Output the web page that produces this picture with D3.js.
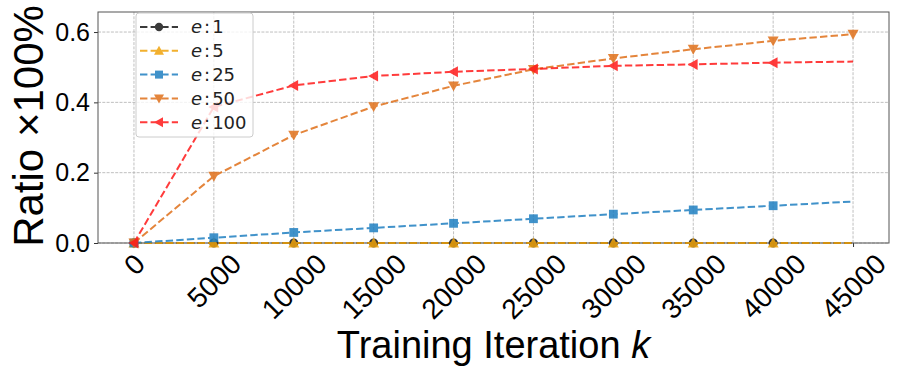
<!DOCTYPE html>
<meta charset="utf-8">
<style>
body { margin: 0; background: #fff; }
svg { display: block; font-family: "DejaVu Sans", sans-serif; }
.grid line { stroke: #b0b0b0; stroke-width: 0.8px; stroke-dasharray: 3,1.3; }
.line { fill: none; stroke-width: 2px; stroke-dasharray: 7.4,3.2; }
</style>
<svg width="913" height="381"></svg>
<script src="https://cdn.jsdelivr.net/npm/d3@7"></script>
<script>

// Data
var iterations = [0, 5000, 10000, 15000, 20000, 25000, 30000, 35000, 40000, 45000];
var labels = ["1", "5", "25", "50", "100"];
var e1   = [0, 0, 0, 0, 0, 0, 0, 0, 0, 0];
var e5   = [0, 0, 0, 0, 0, 0, 0, 0, 0, 0];
var e25  = [0, 0.015, 0.030, 0.043, 0.056, 0.069, 0.082, 0.094, 0.106, 0.118];
var e50  = [0, 0.190, 0.307, 0.388, 0.447, 0.494, 0.525, 0.551, 0.575, 0.594];
var e100 = [0, 0.387, 0.448, 0.475, 0.487, 0.495, 0.504, 0.508, 0.513, 0.516];
var yTicks = [0, 0.2, 0.4, 0.6];
var xTicks = [0, 5000, 10000, 15000, 20000, 25000, 30000, 35000, 40000, 45000];

var svg = d3.select("svg"),
    margin = {top: 12, right: 24, bottom: 138, left: 98},
    width = 913 - margin.left - margin.right,
    height = 381 - margin.top - margin.bottom;

var g = svg.append("g").attr("transform", "translate(" + margin.left + "," + margin.top + ")");

var x = d3.scaleLinear().domain([-2250, 47250]).range([0, width]),
    y = d3.scaleLinear().domain([0, 0.657]).range([height, 0]);

// series styling (matplotlib-ish)
var series = [
  {name: labels[0], values: e1,   color: "#1a1a1a", marker: "circle", lastMark: false},
  {name: labels[1], values: e5,   color: "#f0a30a", marker: "up",     lastMark: false},
  {name: labels[2], values: e25,  color: "#1f7fc1", marker: "square", lastMark: false},
  {name: labels[3], values: e50,  color: "#e0701a", marker: "down",   lastMark: true},
  {name: labels[4], values: e100, color: "#ff1a1a", marker: "left",   lastMark: false}
];

// grid
g.append("g").attr("class", "grid")
  .selectAll("line").data(xTicks).enter().append("line")
    .attr("x1", d => x(d)).attr("x2", d => x(d))
    .attr("y1", 0).attr("y2", height);
g.append("g").attr("class", "grid")
  .selectAll("line").data(yTicks).enter().append("line")
    .attr("x1", 0).attr("x2", width)
    .attr("y1", d => y(d)).attr("y2", d => y(d));

// axes
var xAxis = g.append("g")
    .attr("transform", "translate(0," + height + ")")
    .call(d3.axisBottom(x).tickValues(xTicks).tickSize(4).tickFormat(d3.format("d")));

// rotated labels: centred on the tick, top of rotated box just under the axis
xAxis.selectAll(".tick text")
    .style("font-size", "28px")
    .attr("text-anchor", "middle")
    .attr("dominant-baseline", "central")
    .attr("dy", null)
    .each(function() {
      var w = this.getComputedTextLength(), h = 20;
      var cy = 9 + (w + h) / (2 * Math.SQRT2);
      d3.select(this).attr("y", cy).attr("transform", "rotate(-45,0," + cy + ")");
    });

var yAxis = g.append("g")
    .call(d3.axisLeft(y).tickValues(yTicks).tickSize(4).tickPadding(4).tickFormat(d3.format(".1f")));
yAxis.selectAll("text").style("font-size", "25px");

svg.selectAll(".domain").remove();
svg.selectAll(".tick line").attr("stroke", "#333");
svg.selectAll(".tick text").attr("fill", "#000");

// frame
g.append("rect").attr("width", width).attr("height", height)
  .attr("fill", "none").attr("stroke", "#555").attr("stroke-width", 1);

var line = d3.line()
    .x((d, i) => x(iterations[i]))
    .y(d => y(d));

function markerPath(type, s) {
  var r = s;
  if (type === "up") return "M0," + (-r) + "L" + r + "," + (r * 0.8) + "L" + (-r) + "," + (r * 0.8) + "Z";
  if (type === "down") return "M0," + r + "L" + r + "," + (-r * 0.8) + "L" + (-r) + "," + (-r * 0.8) + "Z";
  if (type === "left") return "M" + (-r) + ",0L" + (r * 0.8) + "," + (-r) + "L" + (r * 0.8) + "," + r + "Z";
  if (type === "square") return "M" + (-r * 0.8) + "," + (-r * 0.8) + "h" + (1.6 * r) + "v" + (1.6 * r) + "h" + (-1.6 * r) + "Z";
  return d3.symbol(d3.symbolCircle, Math.PI * r * r * 0.7)();
}

var plot = g.append("g");
series.forEach(function(s) {
  var sg = plot.append("g").attr("opacity", 0.85);
  sg.append("path").attr("class", "line")
    .attr("d", line(s.values))
    .attr("stroke", s.color);
  var pts = s.values.map((v, i) => ({v: v, i: i})).filter(p => s.lastMark || p.i < s.values.length - 1);
  sg.selectAll(".mk").data(pts).enter().append("path")
    .attr("transform", p => "translate(" + x(iterations[p.i]) + "," + y(p.v) + ")")
    .attr("d", markerPath(s.marker, 5.5))
    .attr("fill", s.color);
});

// legend
var leg = g.append("g").attr("transform", "translate(38,1)");
leg.append("rect").attr("width", 117).attr("height", 124).attr("rx", 3)
  .attr("fill", "#fff").attr("fill-opacity", 0.8).attr("stroke", "#ccc");
series.forEach(function(s, i) {
  var yy = 14 + i * 23.8;
  var row = leg.append("g").attr("transform", "translate(0," + yy + ")").attr("opacity", 0.85);
  row.append("line").attr("x1", 4).attr("x2", 42).attr("y1", 0).attr("y2", 0)
    .attr("stroke", s.color).attr("stroke-width", 2).attr("stroke-dasharray", "7.4,3.2");
  row.append("path").attr("transform", "translate(23,0)")
    .attr("d", markerPath(s.marker, 5)).attr("fill", s.color);
  var t = leg.append("text").attr("x", 55).attr("y", yy).attr("dy", "0.35em")
    .style("font-size", "18px").attr("fill", "#222");
  t.append("tspan").style("font-style", "oblique").text("e");
  t.append("tspan").attr("dx", 2).text(":");
  t.append("tspan").attr("dx", 2).text(s.name);
});

// axis labels
svg.append("text")
    .attr("x", margin.left + x(22500))
    .attr("y", 358)
    .attr("text-anchor", "middle")
    .style("font-family", "'Liberation Sans', Arial, sans-serif")
    .style("font-size", "38px")
    .html('Training Iteration <tspan font-style="italic">k</tspan>');

svg.append("text")
    .attr("transform", "translate(43,126) rotate(-90)")
    .attr("text-anchor", "middle")
    .style("font-family", "'Liberation Sans', Arial, sans-serif")
    .style("font-size", "42px")
    .text("Ratio \u00d7100%");

</script>
